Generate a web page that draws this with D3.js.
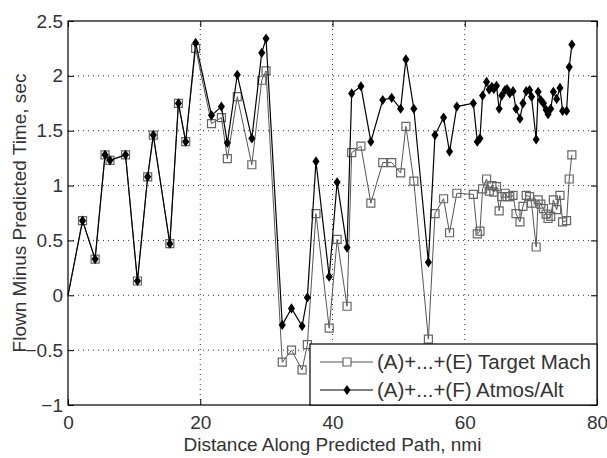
<!DOCTYPE html>
<html>
<head>
<meta charset="utf-8">
<script src="https://cdn.jsdelivr.net/npm/d3@7"></script>
<style>
  body { margin: 0; background: #fff; }
  text { font-family: Arial, "Liberation Sans", sans-serif; fill: #333; }
</style>
</head>
<body>
<div id="chart"></div>
<script>
// distance along path (nmi), shared by both series
var dist = [0, 2.2, 4.1, 5.6, 6.35, 8.7, 10.5, 12.05, 12.9, 15.4, 16.7, 17.8, 19.3, 21.7, 23.2, 24.1, 25.6,
  27.8, 29.3, 29.95, 32.4, 33.8, 35.4, 36.2, 37.5, 39.5, 40.7, 42.2, 42.9, 44.3, 45.8, 47.6, 48.95, 50.3,
  51.1, 52.3, 54.5, 55.5, 56.8, 57.7, 58.8, 61.3, 61.9, 62.3, 62.7, 63.3, 63.7, 64.1, 64.4, 64.8, 65.2,
  65.6, 66.1, 66.4, 66.8, 67.3, 67.75, 68.35, 68.8, 69.3, 69.8, 70.1, 70.8, 71.1, 71.5, 71.9, 72.3, 72.6,
  73.0, 73.4, 73.9, 74.4, 74.8, 75.4, 75.8, 76.2];

var targetMach = [0, 0.68, 0.33, 1.28, 1.23, 1.28, 0.13, 1.08, 1.46, 0.47, 1.75, 1.40, 2.25, 1.565, 1.62, 1.245, 1.81,
  1.19, 1.96, 2.045, -0.61, -0.50, -0.68, -0.45, 0.745, -0.30, 0.51, -0.10, 1.30, 1.36, 0.84, 1.21, 1.21, 1.115,
  1.54, 1.04, -0.40, 0.745, 0.88, 0.57, 0.93, 0.92, 0.56, 0.585, 0.97, 1.06, 0.95, 1.0, 0.94, 0.99, 0.77,
  0.90, 0.93, 0.90, 0.90, 0.91, 0.745, 0.67, 0.81, 0.91, 0.90, 0.84, 0.44, 0.87, 0.83, 0.79, 0.74, 0.70,
  0.72, 0.87, 0.78, 0.91, 0.67, 0.68, 1.06, 1.28];

var atmosAlt = [0, 0.68, 0.33, 1.28, 1.23, 1.28, 0.13, 1.08, 1.46, 0.47, 1.75, 1.40, 2.30, 1.64, 1.72, 1.39, 2.01,
  1.43, 2.21, 2.34, -0.27, -0.12, -0.28, -0.02, 1.22, 0.17, 1.03, 0.435, 1.84, 1.905, 1.40, 1.78, 1.80, 1.70,
  2.15, 1.70, 0.30, 1.46, 1.62, 1.31, 1.72, 1.75, 1.40, 1.43, 1.82, 1.945, 1.875, 1.90, 1.88, 1.91, 1.70,
  1.82, 1.87, 1.88, 1.84, 1.86, 1.70, 1.61, 1.75, 1.86, 1.87, 1.81, 1.42, 1.855, 1.78, 1.75, 1.69, 1.65,
  1.70, 1.855, 1.79, 1.89, 1.68, 1.68, 2.08, 2.285];

var xTicks = [0, 20, 40, 60, 80];
var yTicks = [-1, -0.5, 0, 0.5, 1, 1.5, 2, 2.5];
var legendLabels = ["(A)+...+(E) Target Mach", "(A)+...+(F) Atmos/Alt"];

var margin = ({top: 21, right: 10, bottom: 53, left: 68});
var width = 607, height = 458;
var fs = "19px";

var svg = d3.select("#chart")
  .append("svg")
    .attr("width", width)
    .attr("height", height);

var x = d3.scaleLinear()
    .domain([0, 80])
    .range([margin.left, width - margin.right]);
var y = d3.scaleLinear()
    .domain([-1, 2.5])
    .range([height - margin.bottom, margin.top]);

// dotted grid
svg.append("g")
  .selectAll("line")
  .data(xTicks.slice(1, -1))
  .join("line")
    .attr("x1", d => x(d)).attr("x2", d => x(d))
    .attr("y1", y(-1)).attr("y2", y(2.5))
    .attr("stroke", "#333")
    .attr("stroke-dasharray", "1,4");
svg.append("g")
  .selectAll("line")
  .data(yTicks.slice(1, -1))
  .join("line")
    .attr("x1", x(0)).attr("x2", x(80))
    .attr("y1", d => y(d)).attr("y2", d => y(d))
    .attr("stroke", "#333")
    .attr("stroke-dasharray", "1,4");

// axes, matlab style ticks pointing inward
var xAxis = g => g
  .attr("transform", `translate(0,${y(-1)})`)
  .call(d3.axisBottom(x).tickValues(xTicks).tickSize(-6).tickPadding(11).tickSizeOuter(0))
  .call(g => g.select(".domain").remove())
  .call(g => g.selectAll("text").style("font-size", fs));
var yAxis = g => g
  .attr("transform", `translate(${x(0)},0)`)
  .call(d3.axisLeft(y).tickValues(yTicks).tickFormat(d3.format("")).tickSize(-6).tickPadding(5).tickSizeOuter(0))
  .call(g => g.select(".domain").remove())
  .call(g => g.selectAll("text").style("font-size", fs));
svg.append("g").call(xAxis);
svg.append("g").call(yAxis);
// right and top ticks
svg.append("g")
  .attr("transform", `translate(${x(80)},0)`)
  .call(d3.axisRight(y).tickValues(yTicks).tickSize(-6).tickFormat(""))
  .call(g => g.select(".domain").remove());
svg.append("g")
  .attr("transform", `translate(0,${y(2.5)})`)
  .call(d3.axisTop(x).tickValues(xTicks).tickSize(-6).tickFormat(""))
  .call(g => g.select(".domain").remove());

svg.append("rect")
  .attr("x", x(0)).attr("y", y(2.5))
  .attr("width", x(80) - x(0)).attr("height", y(-1) - y(2.5))
  .attr("fill", "none")
  .attr("stroke", "#000")
  .attr("stroke-width", 1.2);

// axis titles
svg.append("text")
  .attr("x", x(40)).attr("y", 451)
  .attr("text-anchor", "middle")
  .style("font-size", fs)
  .text("Distance Along Predicted Path, nmi");
svg.append("text")
  .attr("transform", `translate(26,${y(0.75)}) rotate(-90)`)
  .attr("text-anchor", "middle")
  .style("font-size", fs)
  .text("Flown Minus Predicted Time, sec");

var line = d3.line()
  .x(d => x(d[0]))
  .y(d => y(d[1]));

var machData = d3.zip(dist, targetMach);
var altData = d3.zip(dist, atmosAlt);

var square = d3.symbol().type(d3.symbolSquare).size(64);
var diamond = d3.symbol().type(d3.symbolDiamond2).size(50);

svg.append("path")
  .datum(machData)
  .attr("fill", "none")
  .attr("stroke", "#555")
  .attr("stroke-width", 1)
  .attr("d", line);
svg.append("g")
  .selectAll("path")
  .data(machData.slice(1))
  .join("path")
    .attr("transform", d => `translate(${x(d[0])},${y(d[1])})`)
    .attr("d", square)
    .attr("fill", "none")
    .attr("stroke", "#666")
    .attr("stroke-width", 1.2);

svg.append("path")
  .datum(altData)
  .attr("fill", "none")
  .attr("stroke", "#000")
  .attr("stroke-width", 1.2)
  .attr("d", line);
svg.append("g")
  .selectAll("path")
  .data(altData.slice(1))
  .join("path")
    .attr("transform", d => `translate(${x(d[0])},${y(d[1])}) scale(0.8,1.15)`)
    .attr("d", diamond)
    .attr("fill", "#000");

// legend
var lg = svg.append("g");
lg.append("rect")
  .attr("x", 310).attr("y", 344)
  .attr("width", x(80) - 310).attr("height", y(-1) - 344)
  .attr("fill", "#fff")
  .attr("stroke", "#000")
  .attr("stroke-width", 1.2);
legendLabels.forEach(function(label, i) {
  var ly = 362 + i * 28;
  lg.append("line")
    .attr("x1", 320).attr("x2", 373)
    .attr("y1", ly).attr("y2", ly)
    .attr("stroke", i ? "#000" : "#555");
  if (i) lg.append("path")
    .attr("transform", `translate(347,${ly}) scale(0.8,1.15)`)
    .attr("d", diamond).attr("fill", "#000");
  else lg.append("path")
    .attr("transform", `translate(347,${ly})`)
    .attr("d", square).attr("fill", "#fff").attr("stroke", "#666").attr("stroke-width", 1.2);
  lg.append("text")
    .attr("x", 377).attr("y", ly)
    .attr("dy", "0.35em")
    .style("font-size", "20.5px")
    .text(label);
});
</script>
</body>
</html>
